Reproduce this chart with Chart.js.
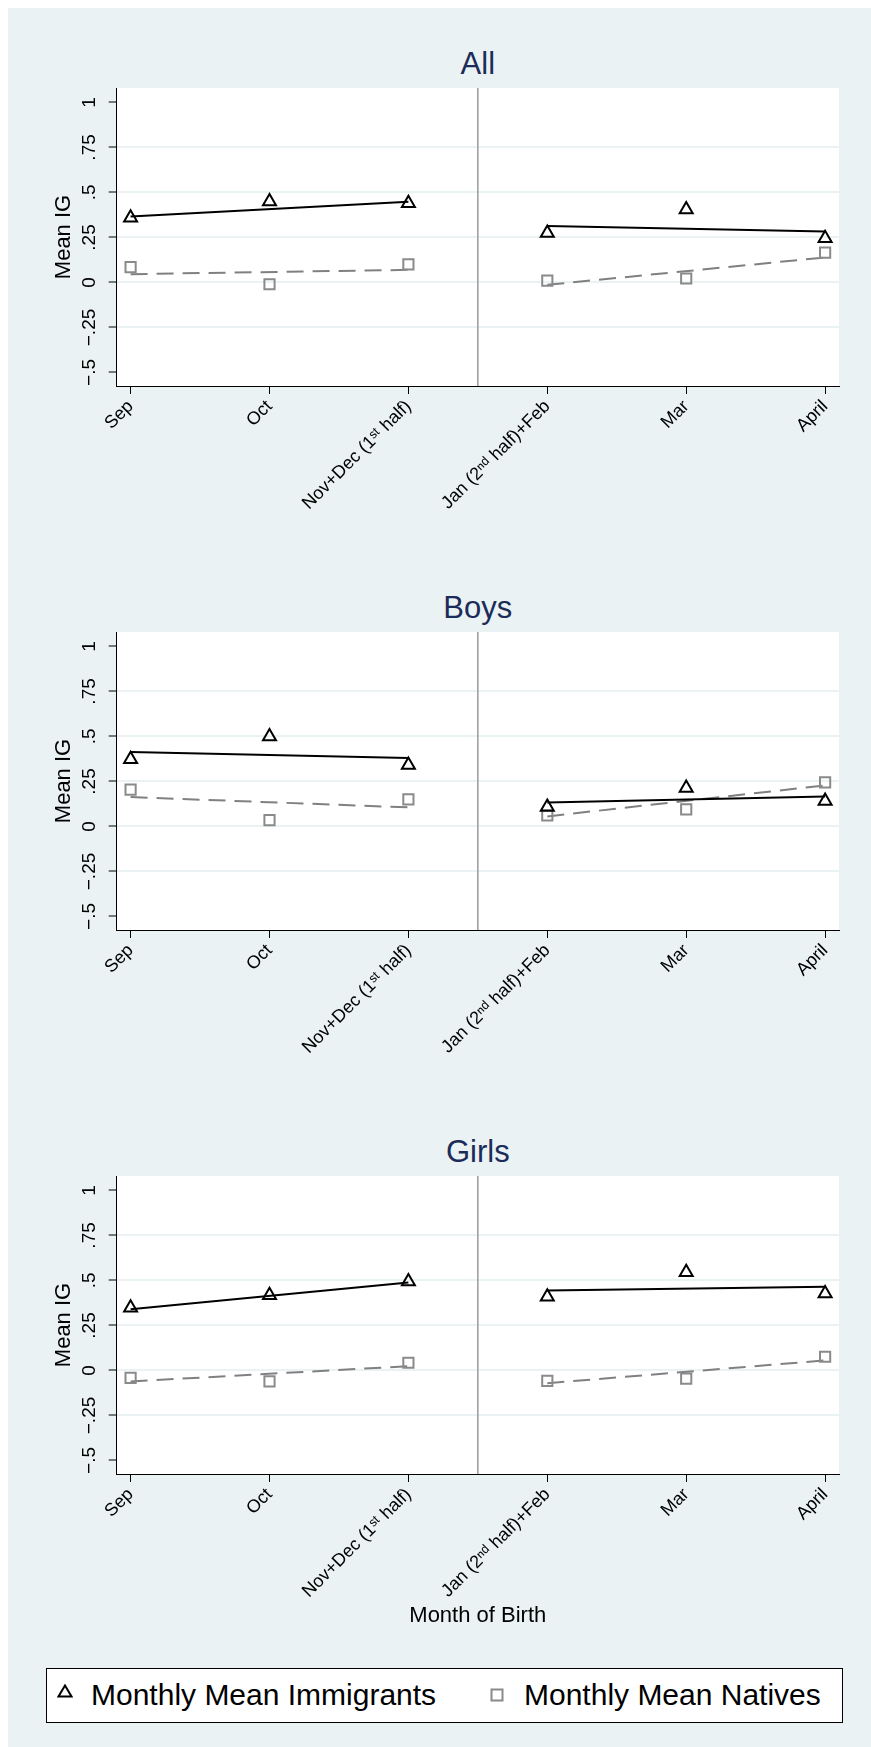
<!DOCTYPE html>
<html>
<head>
<meta charset="utf-8">
<script src="https://cdn.jsdelivr.net/npm/chart.js@4.4.0/dist/chart.umd.min.js"></script>
<style>
  html, body { margin:0; padding:0; width:871px; height:1747px; overflow:hidden; background:#fff; }
  body { position:relative; font-family:"Liberation Sans", Arial, "DejaVu Sans", sans-serif; }
  #bg { position:absolute; left:8px; top:8px; width:863px; height:1739px; background:#eaf2f3; }
  canvas { position:absolute; left:0; }
  .ttl { position:absolute; left:377.8px; width:200px; text-align:center; font-size:31px; line-height:36px; color:#1c2c5a; }
  #xtitle { position:absolute; left:377.8px; width:200px; top:1602px; text-align:center; font-size:22px; line-height:26px; color:#000; }
  #legend { position:absolute; left:46px; top:1668px; width:797px; height:55px; border:1.5px solid #000; background:#fff; box-sizing:border-box; }
  #legend span { position:absolute; top:0; font-size:30px; line-height:52px; color:#000; white-space:nowrap; }
  #legend svg { position:absolute; }
</style>
</head>
<body>
<div id="bg"></div>

<div class="ttl" style="top:45.5px">All</div>
<div class="ttl" style="top:589.5px">Boys</div>
<div class="ttl" style="top:1133.5px">Girls</div>

<canvas id="c0" width="871" height="540" style="top:0px"></canvas>
<canvas id="c1" width="871" height="540" style="top:544px"></canvas>
<canvas id="c2" width="871" height="540" style="top:1088px"></canvas>

<div id="xtitle">Month of Birth</div>

<div id="legend">
  <svg width="16" height="14" style="left:10px;top:15px"><polygon points="8,1.5 14.5,12.5 1.5,12.5" fill="none" stroke="#000" stroke-width="2"/></svg>
  <span style="left:44px">Monthly Mean Immigrants</span>
  <svg width="14" height="14" style="left:443px;top:19px"><rect x="1.5" y="1.5" width="11" height="11" fill="none" stroke="#8a8a8a" stroke-width="2"/></svg>
  <span style="left:477px">Monthly Mean Natives</span>
</div>

<script>
// categories and axis ticks
var months = ["Sep", "Oct", "Nov+Dec (1ˢᵗ half)", "Jan (2ⁿᵈ half)+Feb", "Mar", "April"];
var yTicks = [-0.5, -0.25, 0, 0.25, 0.5, 0.75, 1];
var yTickLabels = ["−.5", "−.25", "0", ".25", ".5", ".75", "1"];
var splitAt = 2.5;        // vertical line between the two halves
var fitIdx = [0, 2, 3, 5]; // first/last category of each half for the fitted lines

// All
var immAll = [0.36, 0.45, 0.44, 0.275, 0.405, 0.245];
var natAll = [0.085, -0.01, 0.10, 0.01, 0.022, 0.166];
var immFitAll = [0.367, 0.448, 0.313, 0.283];
var natFitAll = [0.046, 0.07, -0.013, 0.139];

// Boys
var immBoys = [0.373, 0.50, 0.342, 0.108, 0.213, 0.142];
var natBoys = [0.205, 0.035, 0.15, 0.062, 0.095, 0.245];
var immFitBoys = [0.413, 0.38, 0.133, 0.167];
var natFitBoys = [0.163, 0.106, 0.056, 0.228];

// Girls
var immGirls = [0.348, 0.418, 0.494, 0.409, 0.546, 0.428];
var natGirls = [-0.041, -0.061, 0.043, -0.058, -0.045, 0.076];
var immFitGirls = [0.34, 0.489, 0.444, 0.465];
var natFitGirls = [-0.061, 0.024, -0.071, 0.056];

var FONT = '"Liberation Sans", Arial, "DejaVu Sans", sans-serif';
var yMin = -0.575, yMax = 1.08;

Chart.defaults.font.family = FONT;
Chart.defaults.color = "#000";

// white plot region
var plotBg = {
  id: "plotBg",
  beforeDraw: function (chart) {
    var a = chart.chartArea, ctx = chart.ctx;
    ctx.save();
    ctx.fillStyle = "#fff";
    ctx.fillRect(a.left, a.top, a.right - a.left, a.bottom - a.top);
    ctx.restore();
  }
};

// y tick labels turned 90 degrees like stata
var yLabels = {
  id: "yLabels",
  afterDraw: function (chart) {
    var y = chart.scales.y, ctx = chart.ctx;
    ctx.save();
    ctx.font = "19px " + FONT;
    ctx.fillStyle = "#000";
    ctx.textAlign = "center";
    ctx.textBaseline = "alphabetic";
    for (var i = 0; i < yTicks.length; i++) {
      ctx.save();
      ctx.translate(y.right - 21.5, y.getPixelForValue(yTicks[i]));
      ctx.rotate(-Math.PI / 2);
      ctx.fillText(yTickLabels[i], 0, 0);
      ctx.restore();
    }
    ctx.restore();
  }
};

function pts(vals) {
  return vals.map(function (v, i) { return { x: i, y: v }; });
}
function fitPts(f) {
  return [
    { x: fitIdx[0], y: f[0] }, { x: fitIdx[1], y: f[1] },
    { x: splitAt, y: null },
    { x: fitIdx[2], y: f[2] }, { x: fitIdx[3], y: f[3] }
  ];
}

function makePanel(id, imm, nat, immFit, natFit) {
  new Chart(id, {
    type: "scatter",
    data: {
      datasets: [
        { data: pts(imm), pointStyle: "triangle", pointRadius: 7.5, borderColor: "#000",
          backgroundColor: "rgba(0,0,0,0)", borderWidth: 2, showLine: false },
        { data: pts(nat), pointStyle: "rect", pointRadius: 7.2, borderColor: "#8a8a8a",
          backgroundColor: "rgba(0,0,0,0)", borderWidth: 2, showLine: false },
        { data: fitPts(immFit), showLine: true, spanGaps: false, borderColor: "#000",
          borderWidth: 2, pointRadius: 0 },
        { data: fitPts(natFit), showLine: true, spanGaps: false, borderColor: "#808080",
          borderWidth: 2, borderDash: [17, 9], pointRadius: 0 },
        { data: [{ x: splitAt, y: yMin }, { x: splitAt, y: yMax }], showLine: true,
          borderColor: "#9a9a9a", borderWidth: 1.5, pointRadius: 0 }
      ]
    },
    options: {
      responsive: false,
      animation: false,
      layout: { padding: { left: 46.3, right: 32, top: 88, bottom: 0 } },
      plugins: { legend: { display: false }, tooltip: { enabled: false } },
      scales: {
        x: {
          type: "linear", min: -0.1, max: 5.1,
          afterBuildTicks: function (s) { s.ticks = months.map(function (m, i) { return { value: i }; }); },
          afterFit: function (s) { s.height = 154; },
          ticks: {
            autoSkip: false, minRotation: 45, maxRotation: 45, padding: 2,
            font: { size: 18 }, color: "#000",
            callback: function (v) { return months[v]; }
          },
          grid: { drawOnChartArea: false, tickLength: 8, tickColor: "#000", tickWidth: 1 },
          border: { color: "#000", width: 1 }
        },
        y: {
          min: yMin, max: yMax,
          afterBuildTicks: function (s) { s.ticks = yTicks.map(function (v) { return { value: v }; }); },
          afterFit: function (s) { s.width = 70.4; },
          ticks: { display: false },
          grid: {
            color: function (c) {
              var v = c.tick ? c.tick.value : 0;
              return (v === 1 || v === -0.5) ? "rgba(0,0,0,0)" : "#eaf2f3";
            },
            lineWidth: 2, tickLength: 8, tickColor: "#000", tickWidth: 1
          },
          border: { color: "#000", width: 1 },
          title: { display: true, text: "Mean IG", font: { size: 22 }, color: "#000", padding: { top: 4, bottom: 4 } }
        }
      }
    },
    plugins: [plotBg, yLabels]
  });
}

makePanel("c0", immAll, natAll, immFitAll, natFitAll);
makePanel("c1", immBoys, natBoys, immFitBoys, natFitBoys);
makePanel("c2", immGirls, natGirls, immFitGirls, natFitGirls);
</script>
</body>
</html>
